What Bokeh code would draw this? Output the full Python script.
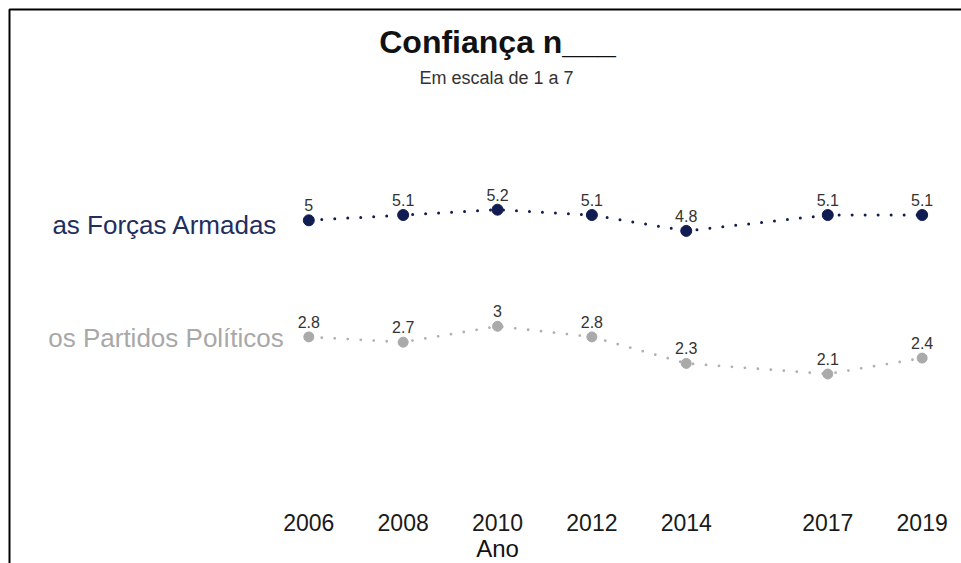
from bokeh.plotting import figure
from bokeh.models import (ColumnDataSource, LinearAxis, FixedTicker, Range1d,
                          BoxAnnotation, Label)
from bokeh.core.properties import value
from bokeh.embed import file_html
from bokeh.resources import INLINE

# ---------------- data ----------------
years = [2006, 2008, 2010, 2012, 2014, 2017, 2019]
forcas_armadas = [5, 5.1, 5.2, 5.1, 4.8, 5.1, 5.1]
partidos_politicos = [2.8, 2.7, 3, 2.8, 2.3, 2.1, 2.4]
series_names = ["as Forças Armadas", "os Partidos Políticos"]
title_text = "Confiança n___"
subtitle_text = "Em escala de 1 a 7"
x_label = "Ano"

# ---------------- layout calibration ----------------
W, H = 961, 563
PX_PER_YEAR = 47.18
PX_PER_UNIT = 53.0
x_start = 2006 - 308.3 / PX_PER_YEAR
x_end = x_start + W / PX_PER_YEAR
y_end = 5.1 + 214.5 / PX_PER_UNIT
y_start = y_end - H / PX_PER_UNIT


def px2x(px):
    return x_start + px / PX_PER_YEAR


def px2y(py):
    return y_end - py / PX_PER_UNIT


FONT = "Liberation Sans"
NAVY = "#111d52"
NAVY_TXT = "#222e5e"
GRAY = "#aaaaaa"
GRAY_TXT = "#a8a8a8"
GRAY_LINE = "#b0b0b0"
VAL_TXT = "#333333"

p = figure(width=W, height=H, output_backend="svg", toolbar_location=None,
           x_axis_type=None, y_axis_type=None,
           x_range=Range1d(x_start, x_end), y_range=Range1d(y_start, y_end),
           min_border=0, outline_line_color=None,
           background_fill_color="white", border_fill_color="white")
p.xgrid.visible = False
p.ygrid.visible = False

# frame border (left and top; right/bottom run off the page)
p.add_layout(BoxAnnotation(left=px2x(9), top=px2y(9), right=px2x(W + 20),
                           bottom=px2y(H + 20), fill_alpha=0,
                           line_color="black", line_alpha=1.0, line_width=2))

# title / subtitle
p.add_layout(Label(x=px2x(497), y=px2y(41), text=title_text, text_align="center",
                   text_baseline="alphabetic", text_font=FONT, text_font_size="32px",
                   text_font_style="bold", text_color="#111111"))
p.add_layout(Label(x=px2x(496), y=px2y(77), text=subtitle_text, text_align="center",
                   text_baseline="alphabetic", text_font=FONT, text_font_size="18px",
                   text_color="#333333"))

src_f = ColumnDataSource(dict(year=years, val=forcas_armadas,
                              lab=[f"{v:g}" for v in forcas_armadas]))
src_p = ColumnDataSource(dict(year=years, val=partidos_politicos,
                              lab=[f"{v:g}" for v in partidos_politicos]))

# lines
p.line("year", "val", source=src_p, line_color=GRAY_LINE, line_width=2.8,
       line_dash="0 13", line_cap="round")
p.line("year", "val", source=src_f, line_color=NAVY, line_width=3,
       line_dash="0 13", line_cap="round")

# points
p.scatter("year", "val", source=src_p, size=10, fill_color=GRAY, line_color=GRAY)
p.scatter("year", "val", source=src_f, size=11, fill_color=NAVY, line_color=NAVY)

# value labels
for src in (src_f, src_p):
    p.text("year", "val", text="lab", source=src, text_align="center",
           text_baseline="alphabetic", y_offset=-15, text_font=value(FONT),
           text_font_size="16px", text_color=VAL_TXT)

# series labels
p.text(x=[years[0]], y=[forcas_armadas[0]], text=[series_names[0]], x_offset=-31,
       y_offset=5, text_align="right", text_baseline="alphabetic",
       text_font=value(FONT), text_font_size="26px", text_color=NAVY_TXT)
p.text(x=[years[0]], y=[partidos_politicos[0]], text=[series_names[1]], x_offset=-25,
       y_offset=1, text_align="right", text_baseline="alphabetic",
       text_font=value(FONT), text_font_size="26px", text_color=GRAY_TXT)

# x axis
xaxis = LinearAxis(ticker=FixedTicker(ticks=years), axis_label=x_label,
                   fixed_location=-0.35, bounds=(2000.4, 2019.6))
xaxis.axis_line_color = None
xaxis.major_tick_line_color = None
xaxis.minor_tick_line_color = None
xaxis.major_tick_out = 0
xaxis.major_label_standoff = 10
xaxis.major_label_text_font = FONT
xaxis.major_label_text_font_size = "23px"
xaxis.major_label_text_color = "#1a1a1a"
xaxis.axis_label_standoff = 1
xaxis.axis_label_text_font = FONT
xaxis.axis_label_text_font_size = "24px"
xaxis.axis_label_text_font_style = "normal"
xaxis.axis_label_text_color = "#111111"
p.add_layout(xaxis, "below")

open("out.html", "w").write(file_html(p, INLINE))
